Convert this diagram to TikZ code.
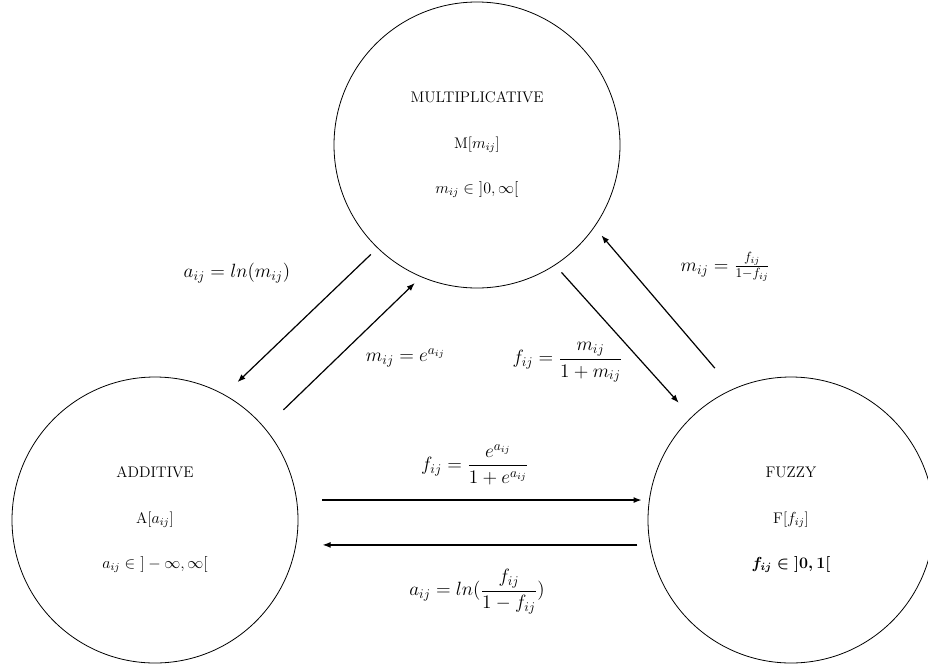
\documentclass[tikz,border=0pt]{standalone}
\usepackage{amsmath}
\usetikzlibrary{arrows.meta}

\tikzstyle{scalenode} = [circle, draw, line width=0.6pt, minimum size=214.5pt, inner sep=0pt, align=center, font=\fontsize{11.5}{14}\selectfont]
\tikzstyle{formula} = [font=\fontsize{14}{17}\selectfont, inner sep=1pt]
\tikzstyle{arrow}=[draw, -{Latex[length=6pt,width=4.5pt]}, line width=0.9pt]

\begin{document}
\begin{tikzpicture}[x=0.75pt, y=-0.75pt]
        \useasboundingbox (0,0) rectangle (928,668);
        % Place nodes
        \node [scalenode] (M) at (477,145) {MULTIPLICATIVE\\[20pt]M[$m_{ij}$]\\[20pt]$m_{ij}\in\ ]0,\infty[$};
        \node [scalenode] (A) at (155,520) {ADDITIVE\\[20pt]A[$a_{ij}$]\\[20pt]$a_{ij}\in\ ]-\infty,\infty[$};
        \node [scalenode] (F) at (791,520) {FUZZY\\[20pt]F[$f_{ij}$]\\[20pt]{\boldmath$f_{ij}\in\ ]0,1[$}};
        % Draw edges
        \path [arrow, shorten <=6.8pt, shorten >=13.5pt] (M.226.3) -- node [formula, shift={(-64,-48.5)}] {$a_{ij} = ln(m_{ij})$} (A.61);
        \path [arrow, shorten <=19.4pt, shorten >=6.5pt] (A.40.7) -- node [formula, shift={(62.6,5.2)}] {$m_{ij} = e^{a_{ij}}$} (M.247.1);
        \path [arrow, shorten <=7.2pt, shorten >=14.2pt] (M.303) -- node [formula, shift={(-55.8,21.5)}] {$f_{ij} = \dfrac{m_{ij}}{1+m_{ij}}$} (F.134.5);
        \path [arrow, shorten <=20.6pt, shorten >=8pt] (F.114.3) -- node [formula, shift={(61.8,-41.3)}] {$m_{ij} = \frac{f_{ij}}{1-f_{ij}}$} (M.325.1);
        \path [arrow, shorten <=19pt, shorten >=5.6pt] (A.8) -- node [formula, shift={(2,-35)}] {$f_{ij} = \dfrac{e^{a_{ij}}}{1+e^{a_{ij}}}$} (F.172);
        \path [arrow, shorten <=9.3pt, shorten >=19.8pt] (F.190.5) -- node [formula, shift={(4,47)}] {$a_{ij} = ln(\dfrac{f_{ij}}{1-f_{ij}})$} (A.-10.5);
    \end{tikzpicture}
\end{document}
